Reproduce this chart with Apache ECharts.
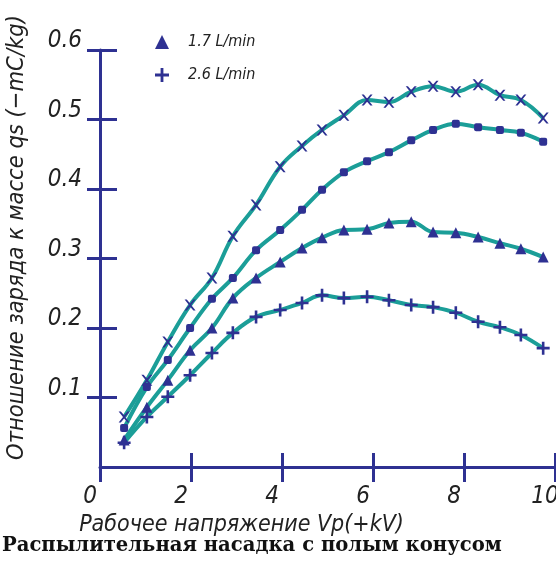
<!DOCTYPE html>
<html>
<head>
<meta charset="utf-8">
<script src="https://cdn.jsdelivr.net/npm/echarts@6/dist/echarts.min.js"></script>
<style>
  html, body {margin:0; padding:0; background:#fff;}
  #main {width:556px; height:563px;}
</style>
</head>
<body>
<div id="main"></div>
<script>
// напряжение, kV
let volt = [0.53, 1.03, 1.49, 1.98, 2.46, 2.92, 3.43, 3.96, 4.44, 4.88, 5.36, 5.87, 6.35, 6.84, 7.32, 7.82, 8.31, 8.79, 9.25, 9.74];
let q_top = [0.072, 0.125, 0.180, 0.233, 0.272, 0.332, 0.377, 0.432, 0.462, 0.485, 0.506, 0.528, 0.525, 0.540, 0.548, 0.540, 0.550, 0.535, 0.528, 0.502];
let q_sq = [0.056, 0.115, 0.154, 0.200, 0.242, 0.272, 0.312, 0.341, 0.370, 0.399, 0.424, 0.440, 0.453, 0.470, 0.485, 0.494, 0.489, 0.485, 0.481, 0.468];
let q_17 = [0.039, 0.086, 0.125, 0.168, 0.200, 0.243, 0.272, 0.295, 0.315, 0.330, 0.341, 0.342, 0.351, 0.353, 0.338, 0.337, 0.331, 0.322, 0.314, 0.302];
let q_26 = [0.035, 0.072, 0.101, 0.132, 0.164, 0.193, 0.216, 0.226, 0.236, 0.247, 0.243, 0.245, 0.240, 0.233, 0.230, 0.222, 0.209, 0.201, 0.190, 0.171];

let axisBlue = '#2e3192';
let lineTeal = '#1b9e98';
let labelFont = "'DejaVu Sans Condensed', 'Noto Sans', sans-serif";

let plusPath = 'path://M4,0 L6,0 L6,4 L10,4 L10,6 L6,6 L6,10 L4,10 L4,6 L0,6 L0,4 L4,4 Z';
let xPath = 'path://M0,0 L2,0 L5,3.5 L8,0 L10,0 L6,5 L10,10 L8,10 L5,6.5 L2,10 L0,10 L4,5 Z';

function pairs(ys){
    return volt.map(function(v, i){ return [v, ys[i]]; });
}

function make_series(name, ys, symbol, size){
    return {
        name: name,
        type: 'line',
        smooth: 0.4,
        data: pairs(ys),
        symbol: symbol,
        symbolSize: size,
        showAllSymbol: true,
        itemStyle: {color: axisBlue},
        lineStyle: {color: lineTeal, width: 4},
        z: 3
    };
}

let chart = echarts.init(document.getElementById('main'));
let option = {
    animation: false,
    grid: {left: 100, right: 1, top: 50, bottom: 96, containLabel: false, outerBoundsMode: 'none'},
    legend: {
        data: [
            {name: '1.7 L/min', icon: 'triangle'},
            {name: '2.6 L/min', icon: plusPath}
        ],
        orient: 'vertical',
        left: 150, top: 29,
        itemWidth: 14, itemHeight: 14, itemGap: 17,
        textStyle: {color: '#222', fontSize: 16, fontStyle: 'italic', fontFamily: labelFont, padding: [0, 0, 0, 14]}
    },
    title: {
        text: 'Распылительная насадка с полым конусом',
        left: -3, bottom: 2,
        textStyle: {color: '#111', fontSize: 19.6, fontWeight: 'bold', fontFamily: "'DejaVu Serif', serif"}
    },
    xAxis: [
        {
            type: 'value', min: 0, max: 10, interval: 2,
            name: 'Рабочее напряжение Vp(+kV)',
            nameLocation: 'middle', nameGap: 46,
            nameTextStyle: {color: '#222', fontSize: 23, fontStyle: 'italic', fontFamily: labelFont, padding: [0, 172, 0, 0]},
            axisLine: {lineStyle: {color: axisBlue, width: 3}},
            axisTick: {show: true, length: 15, lineStyle: {color: axisBlue, width: 3}},
            axisLabel: {color: '#222', fontSize: 24, fontStyle: 'italic', fontFamily: labelFont, margin: 18, padding: [0, 20, 0, 0]},
            splitLine: {show: false}
        },
        {
            type: 'value', min: 0, max: 10, interval: 2, position: 'bottom',
            axisLine: {show: false},
            axisTick: {show: true, inside: true, length: 14, lineStyle: {color: axisBlue, width: 3}},
            axisLabel: {show: false},
            splitLine: {show: false}
        }
    ],
    yAxis: [
        {
            type: 'value', min: 0, max: 0.6, interval: 0.1,
            name: 'Отношение заряда к массе qs (−mC/kg)',
            nameLocation: 'middle', nameGap: 72, nameRotate: 90,
            nameTextStyle: {color: '#222', fontSize: 23.5, fontStyle: 'italic', fontFamily: labelFont, padding: [0, 0, 0, 42]},
            axisLine: {lineStyle: {color: axisBlue, width: 3}},
            axisTick: {show: true, length: 13, lineStyle: {color: axisBlue, width: 3}},
            axisLabel: {
                color: '#222', fontSize: 24, fontStyle: 'italic', fontFamily: labelFont, margin: 18,
                showMinLabel: false, verticalAlign: 'bottom', lineHeight: 18,
                formatter: function(v){ return v === 0 ? '' : v.toFixed(1); }
            },
            splitLine: {show: false}
        },
        {
            type: 'value', min: 0, max: 0.6, interval: 0.1, position: 'left',
            axisLine: {show: false},
            axisTick: {show: true, inside: true, length: 17, lineStyle: {color: axisBlue, width: 3}},
            axisLabel: {show: false},
            splitLine: {show: false}
        }
    ],
    series: [
        make_series('top', q_top, xPath, 11),
        make_series('square', q_sq, 'roundRect', 8),
        make_series('1.7 L/min', q_17, 'triangle', 11),
        make_series('2.6 L/min', q_26, plusPath, 13)
    ]
};
chart.setOption(option);
window.onresize = chart.resize;
</script>
</body>
</html>
